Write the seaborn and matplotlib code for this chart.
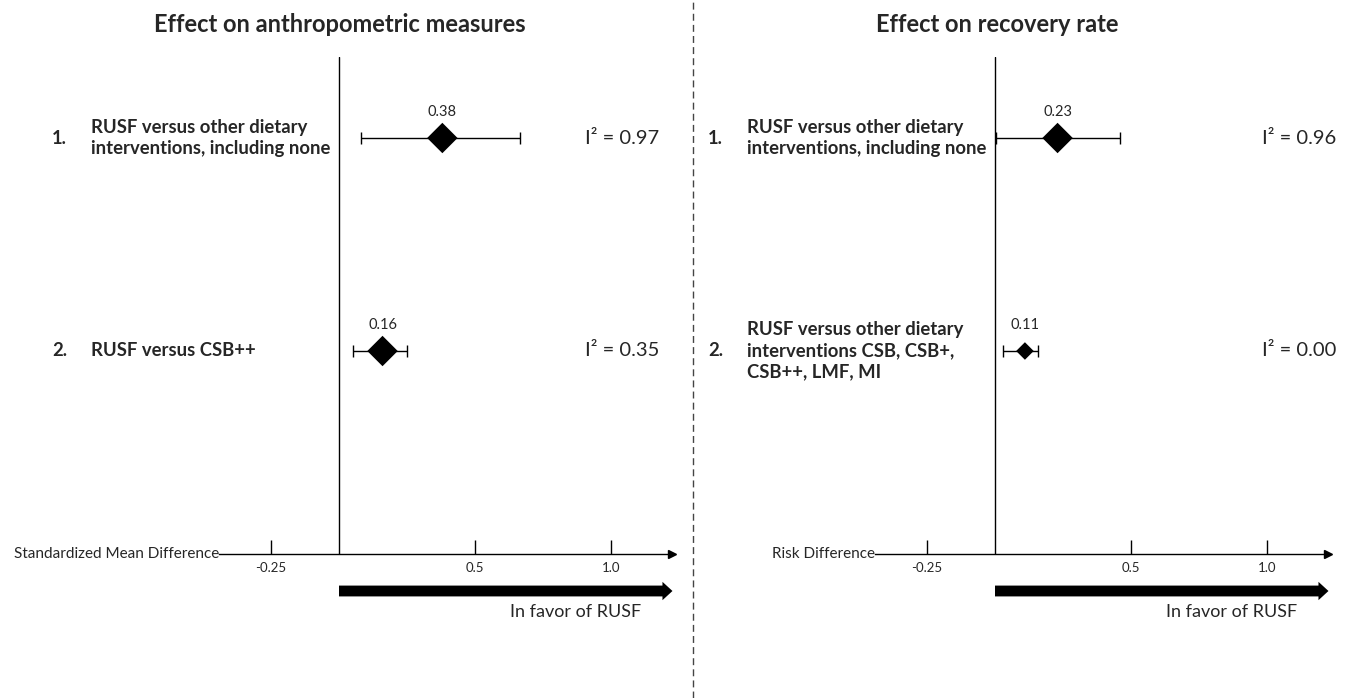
import numpy as np
import matplotlib
matplotlib.use("Agg")
import matplotlib.pyplot as plt
from matplotlib.lines import Line2D
import seaborn as sns

# Panel data
titles = ["Effect on anthropometric measures", "Effect on recovery rate"]
axis_labels = ["Standardized Mean Difference", "Risk Difference"]
row_labels = [
    ["RUSF versus other dietary\ninterventions, including none", "RUSF versus CSB++"],
    ["RUSF versus other dietary\ninterventions, including none",
     "RUSF versus other dietary\ninterventions CSB, CSB+,\nCSB++, LMF, MI"],
]
estimates = [[0.38, 0.16], [0.23, 0.11]]
ci_low = [[0.08, 0.05], [0.005, 0.03]]
ci_high = [[0.665, 0.25], [0.46, 0.158]]
i_squared = ["0.97", "0.35"], ["0.96", "0.00"]
tick_values = [-0.25, 0.5, 1.0]
tick_labels = ["-0.25", "0.5", "1.0"]

sns.set_theme(style="white")
plt.rcParams["font.family"] = ["Lato", "DejaVu Sans"]

W, H = 1346, 698
fig = plt.figure(figsize=(W / 100, H / 100), dpi=100)

# layout in pixels
px_per_unit = 272
zero_px = [339, 995]
x_lo, x_hi = -0.44, 1.226
top_px, axis_px = 57, 554
row_px, row_gap = 138, 213
title_x = [340, 997]
i2_x = [0.905, 0.98]
marker_sizes = [[240, 240], [240, 80]]

rows = np.array([0, 1])
y_top = (top_px - row_px) / row_gap
y_bot = (axis_px - row_px) / row_gap

for k in range(2):
    left = zero_px[k] + x_lo * px_per_unit
    width = (x_hi - x_lo) * px_per_unit
    ax = fig.add_axes([left / W, (H - axis_px) / H, width / W, (axis_px - top_px) / H])
    ax.set_xlim(x_lo, x_hi)
    ax.set_ylim(y_bot, y_top)
    ax.patch.set_alpha(0)
    for s in ["top", "right", "left"]:
        ax.spines[s].set_visible(False)
    ax.spines["bottom"].set_color("black")
    ax.spines["bottom"].set_linewidth(1)
    ax.set_yticks([])
    ax.set_xticks(tick_values)
    ax.set_xticklabels(tick_labels, fontsize=9.5)
    ax.tick_params(axis="x", direction="in", length=10, width=1, color="black", pad=6, bottom=True)
    # arrow head at the end of the axis
    ax.plot([1], [0], marker=">", color="black", markersize=6,
            transform=ax.transAxes, clip_on=False)
    # zero line
    ax.axvline(0, color="black", lw=1)

    est = np.array(estimates[k])
    lo = np.array(ci_low[k])
    hi = np.array(ci_high[k])
    ax.errorbar(est, rows, xerr=[est - lo, hi - est], fmt="none", ecolor="black",
                elinewidth=1, capsize=4, capthick=1)
    sns.scatterplot(x=est, y=rows, marker="D", s=marker_sizes[k], color="black",
                    linewidth=0, ax=ax, legend=False, zorder=3)
    for r in range(2):
        ax.annotate(f"{est[r]:.2f}", (est[r], rows[r]), xytext=(0, 19),
                    textcoords="offset points", ha="center", va="center", fontsize=10.5)
        ax.text(-1.055, rows[r], f"{r + 1}.", ha="left", va="center", fontsize=13.3,
                fontweight="bold", clip_on=False)
        ax.text(-0.913, rows[r], row_labels[k][r], ha="left", va="center", fontsize=13.3,
                fontweight="bold", linespacing=1.3, clip_on=False)
        ax.text(i2_x[k], rows[r], f"I\u00b2 = {i_squared[k][r]}", ha="left", va="center",
                fontsize=14.5, clip_on=False)

    ax.text(0, 0, axis_labels[k], transform=ax.transAxes, ha="right", va="center",
            fontsize=11)

    # thick arrow: in favour of RUSF
    tr = ax.get_xaxis_transform()
    y_arrow = -(591 - axis_px) / (axis_px - top_px)
    ax.annotate("", xy=(x_hi, y_arrow), xytext=(0, y_arrow), xycoords=tr, textcoords=tr,
                arrowprops=dict(arrowstyle="simple,head_length=0.6,head_width=1.1,tail_width=0.65",
                                color="black", lw=0, shrinkA=0, shrinkB=0))
    y_txt = -(612 - axis_px) / (axis_px - top_px)
    ax.text(0.87, y_txt, "In favor of RUSF", transform=tr, ha="center", va="center", fontsize=13)

    fig.text(title_x[k] / W, 1 - 25 / H, titles[k], ha="center", va="center",
             fontsize=17, fontweight="bold")

# dashed divider between the panels
fig.add_artist(Line2D([693 / W, 693 / W], [0, 1], transform=fig.transFigure,
                      color="#444444", lw=1, ls=(0, (5, 3))))

fig.savefig("out.png", dpi=100, facecolor="white")
